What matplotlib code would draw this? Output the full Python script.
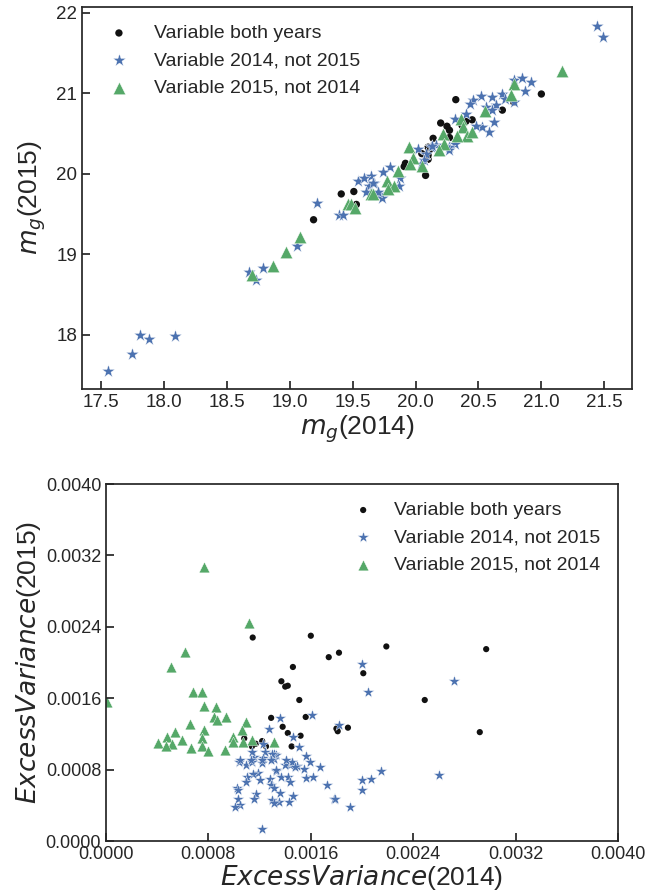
import matplotlib
matplotlib.use("Agg")
import matplotlib.pyplot as plt
from matplotlib.ticker import FormatStrFormatter

# magnitudes, top panel
both_mag14 = [19.19, 19.41, 19.51, 19.53, 20.32, 21.00, 20.69, 20.78, 20.45, 20.20, 20.25,
              20.27, 20.37, 20.14, 20.10, 20.11, 20.10, 19.92, 19.91, 20.08, 20.27, 20.10,
              20.05, 20.40]
both_mag15 = [19.43, 19.75, 19.78, 19.62, 20.92, 20.99, 20.79, 20.89, 20.67, 20.63, 20.59,
              20.54, 20.60, 20.44, 20.33, 20.29, 20.23, 20.13, 20.09, 19.98, 20.45, 20.18,
              20.25, 20.65]

only14_mag14 = [17.56, 17.75, 17.81, 17.88, 18.09, 18.68, 18.73, 18.79, 19.06, 19.22, 19.39,
                19.42, 19.54, 19.63, 19.61, 19.67, 21.44, 21.49, 20.78, 20.85, 20.92, 20.87,
                20.69, 20.61, 20.52, 20.46, 20.43, 20.56, 20.64, 20.61, 20.71, 20.78, 20.40,
                20.31, 20.62, 20.58, 20.53, 20.48, 20.31, 20.27, 20.16, 20.12, 20.02, 20.08,
                20.07, 20.04, 19.80, 19.74, 19.65, 19.59, 19.66, 19.88, 19.87, 19.71, 19.73,
                19.70, 20.13, 20.27]
only14_mag15 = [17.55, 17.77, 18.00, 17.95, 17.99, 18.78, 18.68, 18.83, 19.11, 19.64, 19.49,
                19.49, 19.91, 19.85, 19.77, 19.89, 21.84, 21.70, 21.16, 21.19, 21.14, 21.03,
                20.99, 20.95, 20.97, 20.91, 20.87, 20.83, 20.85, 20.79, 20.93, 20.89, 20.74,
                20.68, 20.64, 20.52, 20.58, 20.59, 20.37, 20.33, 20.36, 20.33, 20.31, 20.25,
                20.17, 20.12, 20.08, 20.02, 19.97, 19.95, 19.89, 19.95, 19.85, 19.75, 19.70,
                19.77, 20.35, 20.29]

only15_mag14 = [18.70, 18.87, 18.97, 19.08, 19.46, 19.49, 19.52, 19.65, 21.16, 20.78, 20.76,
                20.55, 20.36, 20.38, 20.41, 20.45, 20.33, 20.22, 20.23, 20.19, 19.95, 19.98,
                19.96, 20.05, 19.86, 19.77, 19.83, 19.78, 19.66]
only15_mag15 = [18.74, 18.86, 19.03, 19.22, 19.62, 19.63, 19.58, 19.75, 21.27, 21.12, 20.98,
                20.78, 20.68, 20.58, 20.47, 20.52, 20.47, 20.49, 20.37, 20.29, 20.33, 20.20,
                20.12, 20.10, 20.04, 19.91, 19.85, 19.81, 19.75]

# excess variance (x 1e-3), bottom panel
both_ev14 = [1.146, 1.60, 1.74, 1.82, 2.19, 1.46, 2.01, 1.37, 1.40, 1.42, 1.51, 1.29, 1.56,
             1.38, 1.80, 1.81, 1.89, 1.42, 1.52, 1.45, 1.08, 1.17, 1.22, 1.14, 1.25, 2.97,
             2.49, 2.92]
both_ev15 = [2.28, 2.30, 2.06, 2.11, 2.18, 1.95, 1.88, 1.79, 1.73, 1.74, 1.58, 1.38, 1.39,
             1.28, 1.26, 1.23, 1.27, 1.21, 1.18, 1.06, 1.15, 1.09, 1.12, 1.06, 1.06, 2.15,
             1.58, 1.22]

only14_ev14 = [2.72, 2.00, 2.05, 1.82, 2.15, 2.00, 2.07, 2.00, 1.78, 1.91, 2.60, 1.36, 1.61,
               1.27, 1.46, 1.51, 1.23, 1.24, 1.56, 1.59, 1.67, 1.55, 1.49, 1.44, 1.40, 1.45,
               1.41, 1.33, 1.31, 1.31, 1.23, 1.22, 1.16, 1.14, 1.09, 1.04, 1.14, 1.33, 1.37,
               1.42, 1.56, 1.62, 1.44, 1.28, 1.19, 1.15, 1.10, 1.09, 1.20, 1.02, 1.03, 1.29,
               1.31, 1.36, 1.46, 1.43, 1.35, 1.30, 1.31, 1.17, 1.16, 1.03, 1.05, 1.01, 1.22,
               1.73, 1.79, 1.13, 1.05, 1.22, 1.30, 1.29, 1.48, 1.33]
only14_ev15 = [1.79, 1.98, 1.67, 1.30, 0.78, 0.68, 0.69, 0.57, 0.47, 0.38, 0.74, 1.38, 1.41,
               1.25, 1.16, 1.05, 1.09, 1.00, 0.95, 0.88, 0.83, 0.81, 0.84, 0.85, 0.85, 0.88,
               0.91, 0.96, 0.98, 0.92, 0.93, 0.87, 0.94, 1.00, 0.85, 0.89, 0.88, 0.78, 0.72,
               0.72, 0.71, 0.72, 0.66, 0.70, 0.76, 0.75, 0.72, 0.66, 0.68, 0.59, 0.57, 0.63,
               0.59, 0.54, 0.50, 0.44, 0.44, 0.46, 0.43, 0.53, 0.47, 0.47, 0.40, 0.38, 0.14,
               0.63, 0.47, 0.91, 0.91, 0.91, 0.97, 0.91, 0.83, 0.80]

only15_ev14 = [1.12, 0.617, 0.508, 0.677, 0.753, 0.005, 0.766, 0.857, 0.846, 0.87, 0.935,
               0.656, 0.768, 1.09, 1.06, 0.539, 0.474, 0.591, 0.409, 0.513, 0.747, 0.747,
               0.469, 0.662, 0.799, 0.927, 0.995, 0.99, 1.07, 1.14, 1.31, 0.768]
only15_ev15 = [2.44, 2.12, 1.95, 1.67, 1.67, 1.56, 1.51, 1.50, 1.39, 1.36, 1.39, 1.31, 1.24,
               1.33, 1.24, 1.22, 1.17, 1.13, 1.10, 1.09, 1.15, 1.06, 1.06, 1.04, 1.01, 1.02,
               1.16, 1.11, 1.11, 1.13, 1.11, 3.07]

labels = ['Variable both years', 'Variable 2014, not 2015', 'Variable 2015, not 2014']
blue = '#4C72B0'
green = '#55A868'
dark = '#262626'

plt.rcParams['font.family'] = ['Liberation Sans', 'DejaVu Sans']
plt.rcParams['mathtext.fontset'] = 'dejavusans'
plt.rcParams['axes.edgecolor'] = dark
plt.rcParams['axes.linewidth'] = 1.25
plt.rcParams['xtick.color'] = dark
plt.rcParams['ytick.color'] = dark
plt.rcParams['text.color'] = dark
plt.rcParams['axes.labelcolor'] = dark
plt.rcParams['xtick.direction'] = 'in'
plt.rcParams['ytick.direction'] = 'in'
plt.rcParams['xtick.major.size'] = 6
plt.rcParams['ytick.major.size'] = 6
plt.rcParams['xtick.major.width'] = 1.25
plt.rcParams['ytick.major.width'] = 1.25

fig = plt.figure(figsize=(6.46, 8.93), dpi=100)

# top panel: magnitudes
ax1 = fig.add_axes([0.1269, 0.5644, 0.8514, 0.4278])
ax1.scatter(both_mag14, both_mag15, s=28, color='#111111', edgecolor='none', label=labels[0])
ax1.scatter(only14_mag14, only14_mag15, marker='*', s=95, color=blue,
            edgecolor='white', linewidths=0.3, label=labels[1])
ax1.scatter(only15_mag14, only15_mag15, marker='^', s=80, color=green,
            edgecolor='white', linewidths=0.3, label=labels[2])
ax1.set_xlim(17.35, 21.72)
ax1.set_ylim(17.33, 22.07)
ax1.set_xticks([17.5, 18.0, 18.5, 19.0, 19.5, 20.0, 20.5, 21.0, 21.5])
ax1.set_yticks([18, 19, 20, 21, 22])
ax1.xaxis.set_major_formatter(FormatStrFormatter('%.1f'))
ax1.tick_params(labelsize=13.5)
ax1.set_xlabel('$m_g$(2014)', fontsize=19, labelpad=2)
ax1.set_ylabel('$m_g$(2015)', fontsize=19, labelpad=6)
ax1.legend(loc='upper left', frameon=False, fontsize=14, scatterpoints=1)

# bottom panel: excess variance
ax2 = fig.add_axes([0.1641, 0.0582, 0.7926, 0.3998])
ax2.scatter([v * 1e-3 for v in both_ev14], [v * 1e-3 for v in both_ev15], s=20,
            color='#111111', edgecolor='none', label=labels[0])
ax2.scatter([v * 1e-3 for v in only14_ev14], [v * 1e-3 for v in only14_ev15], marker='*',
            s=75, color=blue, edgecolor='white', linewidths=0.3, label=labels[1])
ax2.scatter([v * 1e-3 for v in only15_ev14], [v * 1e-3 for v in only15_ev15], marker='^',
            s=60, color=green, edgecolor='white', linewidths=0.3, label=labels[2])
ax2.set_xlim(0, 0.004)
ax2.set_ylim(0, 0.004)
ticks = [0.0, 0.0008, 0.0016, 0.0024, 0.0032, 0.0040]
ax2.set_xticks(ticks)
ax2.set_yticks(ticks)
ax2.xaxis.set_major_formatter(FormatStrFormatter('%.4f'))
ax2.yaxis.set_major_formatter(FormatStrFormatter('%.4f'))
ax2.tick_params(labelsize=13)
ax2.set_xlabel('$ExcessVariance$(2014)', fontsize=19, labelpad=0)
ax2.set_ylabel('$ExcessVariance$(2015)', fontsize=19, labelpad=2)
ax2.legend(loc='upper right', frameon=False, fontsize=14, scatterpoints=1,
           handletextpad=0.6)

plt.savefig('out.png', dpi=100)
